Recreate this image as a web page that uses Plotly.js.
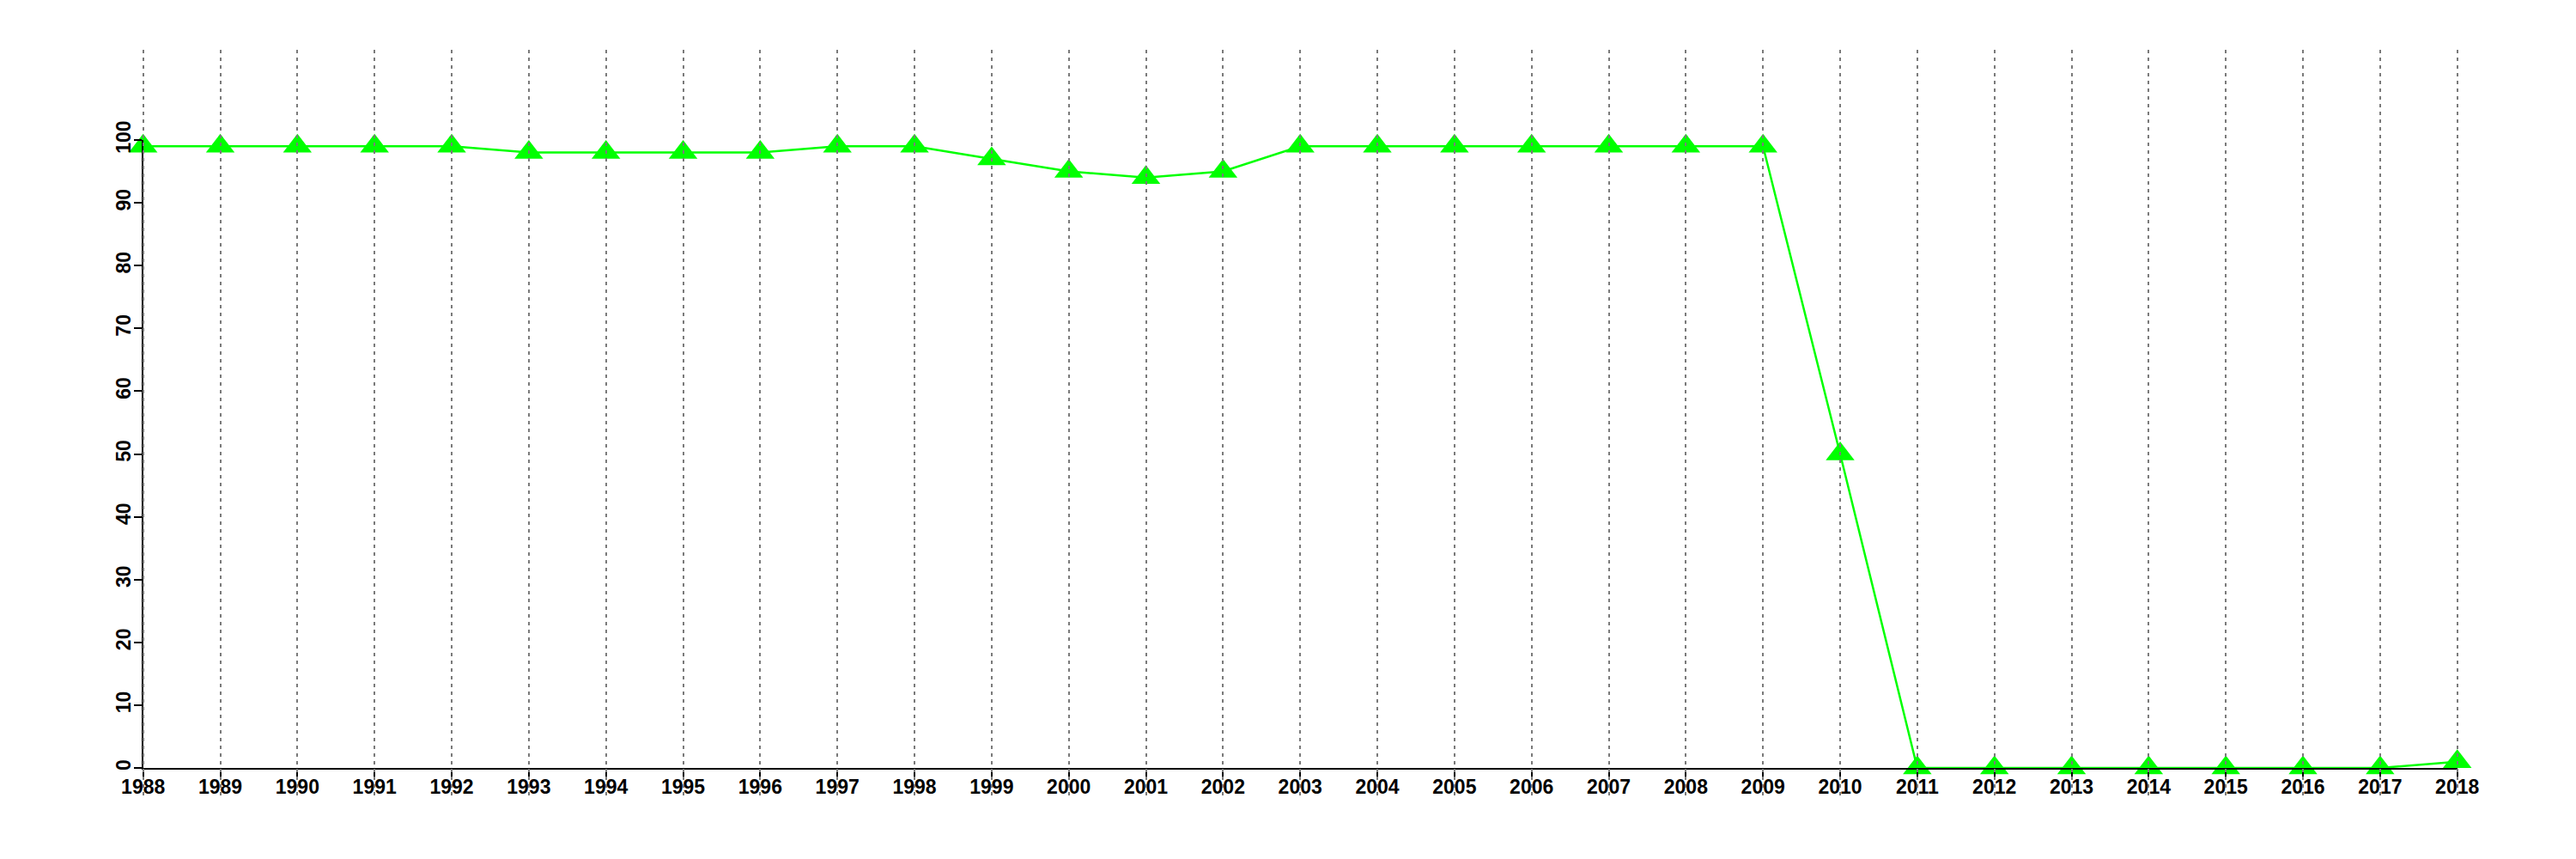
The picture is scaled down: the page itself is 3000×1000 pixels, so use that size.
<!DOCTYPE html>
<html>
<head>
<meta charset="utf-8">
<script src="https://cdn.plot.ly/plotly-3.0.1.min.js"></script>
<style>html,body{margin:0;padding:0;background:#fff;}#chart{width:3000px;height:1000px;}</style>
</head>
<body>
<div id="chart"></div>
<script>
const years = [1988,1989,1990,1991,1992,1993,1994,1995,1996,1997,1998,1999,2000,2001,2002,2003,2004,2005,2006,2007,2008,2009,2010,2011,2012,2013,2014,2015,2016,2017,2018];
const values = [99,99,99,99,99,98,98,98,98,99,99,97,95,94,95,99,99,99,99,99,99,99,50,0,0,0,0,0,0,0,1];
const yTicks = [0,10,20,30,40,50,60,70,80,90,100];

const W = 3000, H = 1000;
const fontFam = '"Liberation Sans", Arial, Helvetica, sans-serif';
const tickFont = {family: fontFam, size: 23, color: '#000', weight: 'bold'};

const dataTrace = {
  x: years, y: values, xaxis: 'x', yaxis: 'y',
  type: 'scatter', mode: 'lines+markers',
  line: {color: '#00ff00', width: 2.5},
  marker: {symbol: 'triangle-up', size: 29, color: '#00ff00', line: {width: 0}},
  cliponaxis: false, showlegend: false, hoverinfo: 'x+y'
};

// empty helper trace so the grid subplot (drawn on top) exists
const gridTrace = {
  x: [], y: [], xaxis: 'x2', yaxis: 'y2',
  type: 'scatter', mode: 'none', showlegend: false, hoverinfo: 'skip'
};

const layout = {
  width: W, height: H,
  margin: {l: 0, r: 0, t: 0, b: 0},
  paper_bgcolor: '#ffffff', plot_bgcolor: 'rgba(0,0,0,0)',
  showlegend: false,
  font: {family: fontFam, size: 23, color: '#000'},
  xaxis: {
    domain: [166.7 / W, 2861.7 / W],
    range: [years[0], years[years.length - 1]],
    tickmode: 'array', tickvals: years, ticktext: years.map(String),
    showline: true, linecolor: '#000', linewidth: 2,
    ticks: 'outside', ticklen: 8, tickwidth: 2, tickcolor: '#000',
    showgrid: false, zeroline: false,
    tickfont: tickFont, ticklabelstandoff: -8,
    anchor: 'y', fixedrange: true
  },
  yaxis: {
    domain: [(H - 894) / H, (H - 163) / H],
    range: [0, 100],
    tickmode: 'array', tickvals: yTicks, ticktext: yTicks.map(String),
    tickangle: -90,
    showline: true, linecolor: '#000', linewidth: 2,
    ticks: 'outside', ticklen: 9, tickwidth: 2, tickcolor: '#000',
    showgrid: false, zeroline: false,
    tickfont: tickFont, ticklabelstandoff: -5,
    anchor: 'x', fixedrange: true
  },
  xaxis2: {
    domain: [58.9 / W, 2969.5 / W],
    range: [1986.8, 2019.2],
    tickmode: 'array', tickvals: years,
    showticklabels: false, ticks: '', showline: false, zeroline: false,
    showgrid: true, gridcolor: '#7a7a7a', gridwidth: 2, griddash: '4px,5px',
    anchor: 'y2', fixedrange: true
  },
  yaxis2: {
    domain: [(H - 926.5) / H, (H - 58) / H],
    range: [-4.4, 114.4],
    showticklabels: false, ticks: '', showline: false, zeroline: false, showgrid: false,
    anchor: 'x2', fixedrange: true
  }
};

Plotly.newPlot('chart', [dataTrace, gridTrace], layout, {displayModeBar: false, staticPlot: true});
</script>
</body>
</html>
